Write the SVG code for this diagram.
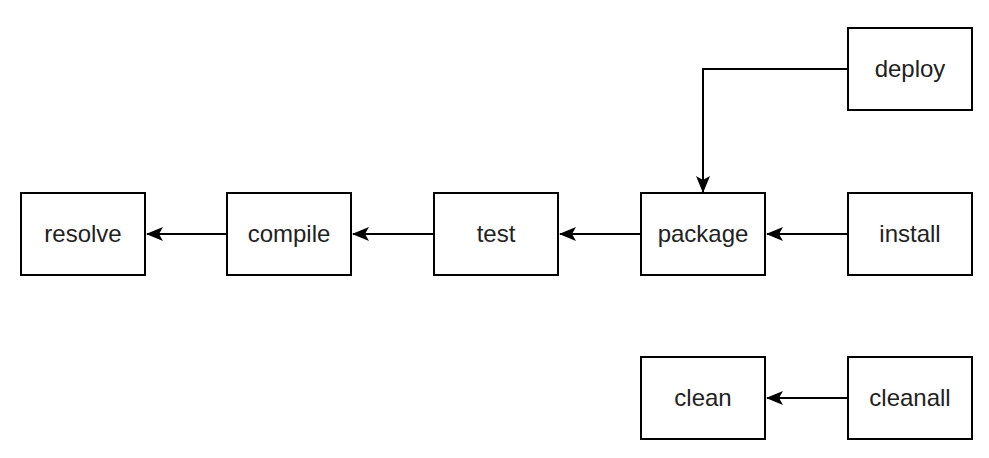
<svg xmlns="http://www.w3.org/2000/svg" width="989" height="458" viewBox="0 0 989 458">
<style>
.box{fill:#fff;stroke:#000;stroke-width:2}
.lbl{font-family:"Liberation Sans",Arial,sans-serif;font-size:24px;fill:#222;text-anchor:middle}
.edge{fill:none;stroke:#000;stroke-width:2}
</style>
<defs>
<marker id="arr" viewBox="0 0 17 14" refX="16" refY="7" markerWidth="17" markerHeight="14" markerUnits="userSpaceOnUse" orient="auto">
<path d="M0,0 L17,7 L0,14 L4,7 Z" fill="#000"/>
</marker>
</defs>
<rect width="989" height="458" fill="#fff"/>
<g id="connectors">
<path class="edge" d="M227,234 H147" marker-end="url(#arr)"/>
<path class="edge" d="M434,234 H353" marker-end="url(#arr)"/>
<path class="edge" d="M641,234 H560" marker-end="url(#arr)"/>
<path class="edge" d="M848,234 H767" marker-end="url(#arr)"/>
<path class="edge" d="M848,69 H703 V192" marker-end="url(#arr)"/>
<path class="edge" d="M848,398 H767" marker-end="url(#arr)"/>
</g>
<g id="resolve"><rect class="box" x="21" y="193" width="124" height="82"/><text class="lbl" x="83" y="242">resolve</text></g>
<g id="compile"><rect class="box" x="227" y="193" width="124" height="82"/><text class="lbl" x="289" y="242">compile</text></g>
<g id="test"><rect class="box" x="434" y="193" width="124" height="82"/><text class="lbl" x="496" y="242">test</text></g>
<g id="package"><rect class="box" x="641" y="193" width="124" height="82"/><text class="lbl" x="703" y="242">package</text></g>
<g id="install"><rect class="box" x="848" y="193" width="124" height="82"/><text class="lbl" x="910" y="242">install</text></g>
<g id="deploy"><rect class="box" x="848" y="28" width="124" height="82"/><text class="lbl" x="910" y="77">deploy</text></g>
<g id="clean"><rect class="box" x="641" y="357" width="124" height="82"/><text class="lbl" x="703" y="406">clean</text></g>
<g id="cleanall"><rect class="box" x="848" y="357" width="124" height="82"/><text class="lbl" x="910" y="406">cleanall</text></g>
</svg>
